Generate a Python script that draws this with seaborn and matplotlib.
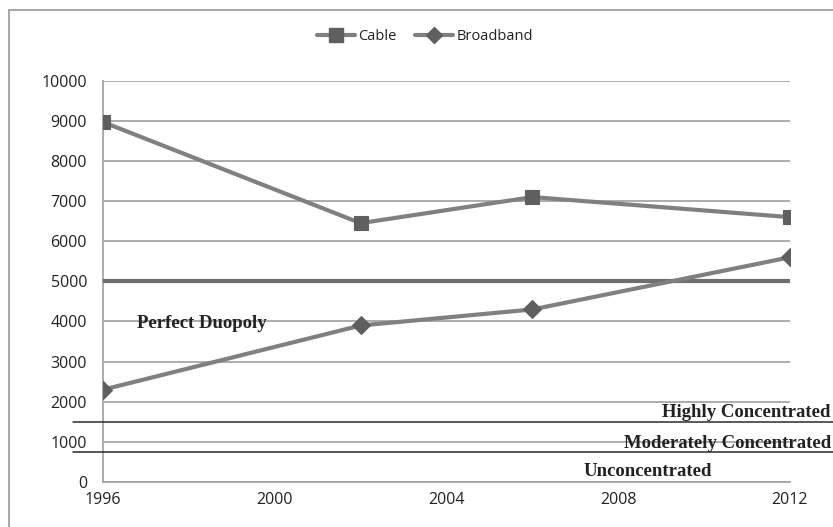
import matplotlib
matplotlib.use("Agg")
import matplotlib.pyplot as plt
import matplotlib.transforms as mtransforms
from matplotlib.lines import Line2D
import pandas as pd
import seaborn as sns

# HHI by year for the two markets
years = [1996, 2002, 2006, 2012]
cable = [8970, 6450, 7100, 6600]
broadband = [2300, 3900, 4300, 5600]

x_ticks = [1996, 2000, 2004, 2008, 2012]
y_ticks = [0, 1000, 2000, 3000, 4000, 5000, 6000, 7000, 8000, 9000, 10000]

duopoly_level = 5000
highly_level = 1500
moderate_level = 750

df = pd.DataFrame({
    "Year": years * 2,
    "HHI": cable + broadband,
    "Series": ["Cable"] * len(years) + ["Broadband"] * len(years),
})

sns.set_theme(style="white")
plt.rcParams["font.family"] = ["Open Sans", "DejaVu Sans"]

W, H = 833, 527
fig = plt.figure(figsize=(W / 100, H / 100), dpi=100)
ax = fig.add_axes([103 / W, 1 - 482 / H, (790 - 103) / W, (482 - 80.7) / H])

line_col = "#808080"
mark_col = "#5f5f5f"
grid_col = "#a6a6a6"

sns.lineplot(
    data=df, x="Year", y="HHI", hue="Series", style="Series",
    palette={"Cable": line_col, "Broadband": line_col},
    markers={"Cable": "s", "Broadband": "D"}, dashes=False,
    linewidth=3, markersize=10.5, legend=False, ax=ax, zorder=4,
)
for ln in ax.lines:
    ln.set_markerfacecolor(mark_col)
    ln.set_markeredgecolor(mark_col)
    ln.set_markeredgewidth(0.8)
    if ln.get_marker() == "D":
        ln.set_markersize(9)

ax.set_xlim(1996, 2012)
ax.set_ylim(0, 10000)
ax.set_xticks(x_ticks)
ax.set_xticklabels([str(v) for v in x_ticks])
ax.set_yticks(y_ticks)
ax.set_yticklabels([str(v) for v in y_ticks])
ax.set_xlabel("")
ax.set_ylabel("")

ax.yaxis.grid(True, color=grid_col, linewidth=1.3)
ax.xaxis.grid(False)
for side in ("top", "right"):
    ax.spines[side].set_visible(False)
for side in ("left", "bottom"):
    ax.spines[side].set_color(grid_col)
    ax.spines[side].set_linewidth(1.3)
ax.tick_params(axis="both", which="major", direction="out", length=4,
               width=1.3, color=grid_col, labelsize=11.5, labelcolor="#222222")
ax.tick_params(axis="y", pad=7.5)
ax.tick_params(axis="x", pad=3.5)

# Perfect duopoly reference line
ax.axhline(duopoly_level, color="#6e6e6e", linewidth=3, zorder=3)

# Concentration thresholds, running across the whole chart
blend = mtransforms.blended_transform_factory(fig.transFigure, ax.transData)
for lvl in (highly_level, moderate_level):
    ax.add_line(Line2D([73 / W, 1.0], [lvl, lvl], transform=blend,
                       color="#2b2b2b", linewidth=1.1, clip_on=False, zorder=5))

serif = dict(family=["Liberation Serif", "DejaVu Serif"], weight="bold",
             size=13.5, color="#222222")
ax.text(831 / W, highly_level + 10, "Highly Concentrated", transform=blend,
        ha="right", va="bottom", clip_on=False, zorder=6, **serif)
ax.text(831 / W, moderate_level + 0, "Moderately Concentrated", transform=blend,
        ha="right", va="bottom", clip_on=False, zorder=6, **serif)
ax.text(648 / W, 260, "Unconcentrated", transform=blend,
        ha="center", va="center", clip_on=False, zorder=6, **serif)
ax.text(1996.8, 3940, "Perfect Duopoly", ha="left", va="center", zorder=6, **serif)

# Legend at the top
handles = [
    Line2D([], [], color=line_col, lw=3, marker="s", markersize=10,
           markerfacecolor=mark_col, markeredgecolor=mark_col),
    Line2D([], [], color=line_col, lw=3, marker="D", markersize=8.5,
           markerfacecolor=mark_col, markeredgecolor=mark_col),
]
fig.legend(handles, ["Cable", "Broadband"], loc="center",
           bbox_to_anchor=(425 / W, 1 - 37 / H), ncol=2, frameon=False,
           fontsize=10.5, handlelength=2.6, handletextpad=0.2,
           columnspacing=1.3, labelcolor="#222222")

# Chart frame (left and top edges)
fig.add_artist(Line2D([9 / W, 9 / W], [0, 1 - 10 / H], transform=fig.transFigure,
                      color="#a0a0a0", linewidth=1.3))
fig.add_artist(Line2D([9 / W, 1], [1 - 10 / H, 1 - 10 / H], transform=fig.transFigure,
                      color="#a0a0a0", linewidth=1.3))

fig.savefig("out.png", dpi=100)
